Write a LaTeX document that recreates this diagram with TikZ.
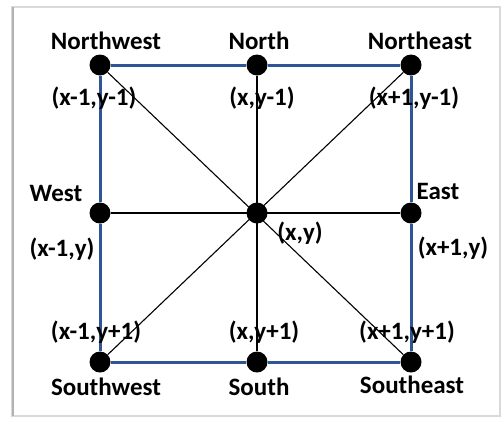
\documentclass[tikz,border=0pt]{standalone}
\usepackage{fontspec}
\setmainfont{Carlito}
\definecolor{gridblue}{RGB}{47,85,151}
\tikzset{
  dot/.style={circle,fill=black,inner sep=0pt,minimum size=21pt},
  lbl/.style={font=\fontsize{25}{29}\selectfont\bfseries},
}
\begin{document}
\begin{tikzpicture}[x=1pt,y=-1pt]
\useasboundingbox (0,0) rectangle (502,421);
% frame
\draw[gray!30,line width=1.2pt] (12,7) rectangle (500,416);
\draw[gray!60,line width=2.5pt] (13,7)--(13,416);
% pixels
\node[dot] (nw) at (100,65) {};
\node[dot] (n) at (257,65) {};
\node[dot] (ne) at (411,65) {};
\node[dot] (w) at (100,213) {};
\node[dot] (c) at (257,213) {};
\node[dot] (e) at (411,213) {};
\node[dot] (sw) at (100,362) {};
\node[dot] (s) at (257,362) {};
\node[dot] (se) at (411,362) {};
\draw[black,line width=1.3pt] (n)--(s);
\draw[black,line width=1.3pt] (w)--(e);
\draw[black,line width=1.1pt] (nw)--(se);
\draw[black,line width=1.1pt] (ne)--(sw);
\draw[gridblue,line width=3pt] (nw)--(n)--(ne)--(e)--(se)--(s)--(sw)--(w)--(nw);
% names
\node[lbl] at (106,41) {Northwest};
\node[lbl] at (259,41) {North};
\node[lbl] at (420,41) {Northeast};
\node[lbl] at (56,193) {West};
\node[lbl] at (438,191) {East};
\node[lbl] at (106,387) {Southwest};
\node[lbl] at (259,387) {South};
\node[lbl] at (412,385) {Southeast};
% coordinates
\node[lbl] at (94,98) {(x-1,y-1)};
\node[lbl] at (262,98) {(x,y-1)};
\node[lbl] at (414,98) {(x+1,y-1)};
\node[lbl] at (62,249) {(x-1,y)};
\node[lbl] at (300,233) {(x,y)};
\node[lbl] at (453,248) {(x+1,y)};
\node[lbl] at (96,332) {(x-1,y+1)};
\node[lbl] at (264,332) {(x,y+1)};
\node[lbl] at (407,332) {(x+1,y+1)};
\end{tikzpicture}
\end{document}
